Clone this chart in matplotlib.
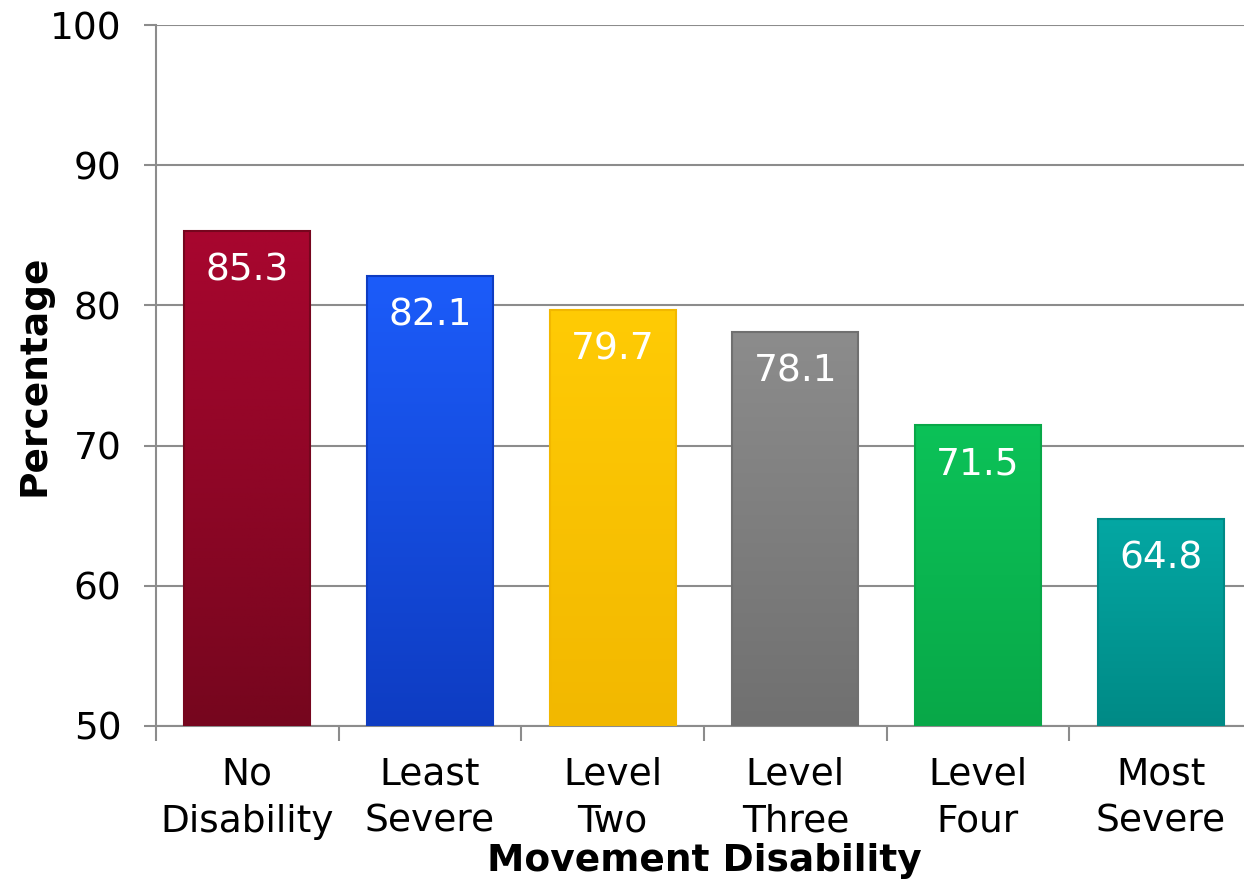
import numpy as np
import matplotlib
matplotlib.use('Agg')
import matplotlib.pyplot as plt
from matplotlib.colors import LinearSegmentedColormap

categories = ['No\nDisability', 'Least\nSevere', 'Level\nTwo', 'Level\nThree', 'Level\nFour', 'Most\nSevere']
values = [85.3, 82.1, 79.7, 78.1, 71.5, 64.8]
top_colors = ['#A8062F', '#1C5CFA', '#FFCB05', '#8C8C8C', '#0CC258', '#04A7A3']
bottom_colors = ['#76061E', '#0E3CC2', '#F2B800', '#707070', '#08A848', '#008A86']

plt.rcParams['font.family'] = ['DejaVu Sans']

fig = plt.figure(figsize=(12.44, 8.84), dpi=100)
ax = fig.add_axes([156 / 1244, 1 - 726 / 884, 1096 / 1244, 701 / 884])

ymin, ymax = 50, 100
x = np.arange(len(categories))
width = 0.69

ax.set_xlim(-0.5, len(categories) - 0.5)
ax.set_ylim(ymin, ymax)

# vertical gradient inside each bar
grad = np.linspace(0, 1, 256).reshape(-1, 1)
for i, v in enumerate(values):
    cmap = LinearSegmentedColormap.from_list('g', [bottom_colors[i], top_colors[i]])
    left = x[i] - width / 2
    ax.imshow(grad, extent=(left, left + width, ymin, v), origin='lower',
              aspect='auto', cmap=cmap, zorder=3)
    ax.bar(x[i], v - ymin, width, bottom=ymin, facecolor='none',
           edgecolor=bottom_colors[i], linewidth=1.5, zorder=4)
    ax.text(x[i], v - 1.55, f'{v:.1f}', ha='center', va='top', color='white',
            fontsize=27, zorder=5)

ax.set_yticks(np.arange(50, 101, 10))
ax.tick_params(axis='y', labelsize=27, length=9, width=1.5, color='#8C8C8C', pad=16)
ax.yaxis.grid(True, color='#8C8C8C', linewidth=1.5, zorder=0)
ax.set_axisbelow(True)

ax.set_xticks(x)
ax.set_xticklabels(categories, fontsize=27, linespacing=1.4)
ax.tick_params(axis='x', which='major', length=0, pad=22)
ax.set_xticks(np.arange(len(categories) + 1) - 0.5, minor=True)
ax.tick_params(axis='x', which='minor', length=11, width=1.5, color='#8C8C8C')

for s in ['top', 'right']:
    ax.spines[s].set_visible(False)
for s in ['left', 'bottom']:
    ax.spines[s].set_color('#8C8C8C')
    ax.spines[s].set_linewidth(1.5)

ax.set_ylabel('Percentage', fontsize=27, fontweight='bold', labelpad=-2)
ax.set_xlabel('Movement Disability', fontsize=27, fontweight='bold', labelpad=2)

fig.savefig('out.png', dpi=100)
